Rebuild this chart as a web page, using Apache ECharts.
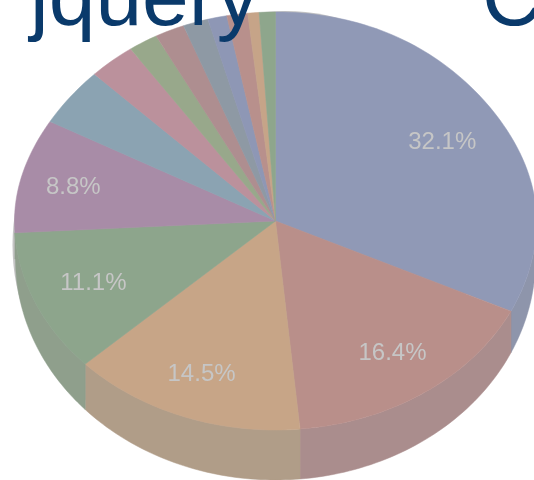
<!DOCTYPE html>
<html>
<head>
<meta charset="utf-8">
<style>
html, body { margin: 0; padding: 0; background: #fff; }
#pie_3d { width: 534px; height: 480px; filter: blur(0.5px); }
</style>
<script src="https://cdn.jsdelivr.net/npm/echarts@6/dist/echarts.min.js"></script>
</head>
<body>
<div id="pie_3d"></div>
<script>
// Slices, clockwise from 12 o'clock
var sliceValues = [32.1, 16.4, 14.5, 11.1, 8.8, 4.5, 3.0, 1.9, 1.9, 1.6, 1.2, 1.3, 0.7, 1.0];
var topColors = ['#9099b6', '#b98f8a', '#c7a587', '#8da58c', '#a88ca7', '#8ba3b2', '#bb919c',
    '#98a88b', '#ae8e90', '#8e99a4', '#8e97b5', '#b8908c', '#c6a488', '#8ea68c'];
var sideColors = ['#8e95ab', '#aa8d8d', '#b09d88', '#8f9f8c', '#9c8a9c', '#8b9da8', '#a88d96',
    '#95a089', '#a38c8e', '#8d96a0', '#8c93aa', '#aa8d8d', '#b09d88', '#8f9f8c'];
var titleWords = ['jquery', 'C'];
var labelMin = 8;
// Hand nudges for the percent labels, dx and dy in px
var labelNudge = [[0, 5], [4, 4], [-5, 7], [-2, 1], [-11, 1]];

// Pie geometry: the back half is pinched a little by the perspective
var cx = 275.5, cy = 221, rx = 261, ry = 209, backPinch = 0.025;
var baseCy = 259, baseRx = 260, baseRy = 221;
var total = 0;
sliceValues.forEach(function (v) { total += v; });

// Start and end of a slice, radians clockwise from the top
function sliceAngles(index) {
    var sum = 0;
    for (var i = 0; i < index; i++) {
        sum += sliceValues[i];
    }
    return [sum / total * 2 * Math.PI, (sum + sliceValues[index]) / total * 2 * Math.PI];
}

function pointOn(angle) {
    var s = Math.sin(angle), c = Math.cos(angle);
    var w = c > 0 ? 1 - backPinch * Math.pow(2 * s * c, 2) : 1;
    return [cx + rx * s * w, cy - ry * c];
}

// Base outline straight below a point of the top face
function baseYAt(x) {
    var u = Math.min(1, Math.abs(x - cx) / baseRx);
    return baseCy + baseRy * Math.sqrt(1 - u * u);
}

// Wall under the front half of the pie
function renderSide(params, api) {
    var a = sliceAngles(params.dataIndex);
    var start = Math.max(a[0], Math.PI / 2);
    var end = Math.min(a[1], Math.PI * 3 / 2);
    if (end - start < 0.1) {
        return null;
    }
    var edge = [];
    var steps = 48;
    for (var i = 0; i <= steps; i++) {
        edge.push(pointOn(start + (end - start) * i / steps));
    }
    var points = edge.slice();
    for (var j = steps; j >= 0; j--) {
        points.push([edge[j][0], baseYAt(edge[j][0])]);
    }
    return {
        type: 'polygon',
        shape: { points: points },
        style: { fill: sideColors[params.dataIndex], stroke: sideColors[params.dataIndex], lineWidth: 0.5 }
    };
}

// Top face with its percent label
function renderTop(params, api) {
    var a = sliceAngles(params.dataIndex);
    var value = api.value(0);
    var points = [[cx, cy]];
    var steps = Math.max(4, Math.ceil((a[1] - a[0]) * 40));
    for (var i = 0; i <= steps; i++) {
        points.push(pointOn(a[0] + (a[1] - a[0]) * i / steps));
    }
    var children = [{
        type: 'polygon',
        shape: { points: points },
        style: { fill: topColors[params.dataIndex], stroke: topColors[params.dataIndex], lineWidth: 0.5 }
    }];
    if (value >= labelMin) {
        var mid = (a[0] + a[1]) / 2;
        var nudge = labelNudge[params.dataIndex];
        children.push({
            type: 'text',
            x: 276 + 262 * 0.75 * Math.sin(mid) + nudge[0],
            y: cy - ry * 0.75 * Math.cos(mid) + nudge[1],
            z2: 5,
            style: {
                text: value.toFixed(1) + '%',
                fill: '#c6c6c6',
                font: '24px "Liberation Sans", Arial, sans-serif',
                align: 'center',
                verticalAlign: 'middle'
            }
        });
    }
    return { type: 'group', children: children };
}

var chart = echarts.init(document.getElementById('pie_3d'), null, { renderer: 'canvas' });

chart.setOption({
    animation: false,
    backgroundColor: '#ffffff',
    xAxis: { show: false },
    yAxis: { show: false },
    grid: { left: 0, right: 0, top: 0, bottom: 0 },
    graphic: {
        elements: [
            // Grey rim that only peeks out at the top and at the left
            {
                type: 'ellipse',
                z: 0,
                shape: { cx: 285, cy: 210, rx: 200, ry: 199 },
                style: { fill: '#c4c4c4' }
            },
            {
                type: 'ellipse',
                z: 0,
                shape: { cx: 210, cy: 245, rx: 197.5, ry: 200 },
                style: { fill: '#c4c4c4' }
            },
            {
                type: 'text',
                z: 10,
                left: 30,
                top: -40,
                style: {
                    text: titleWords[0],
                    fill: '#0a3a6b',
                    font: '84px "Liberation Sans", Arial, sans-serif'
                }
            },
            {
                type: 'text',
                z: 10,
                left: 482,
                top: -40,
                style: {
                    text: titleWords[1],
                    fill: '#0a3a6b',
                    font: '84px "Liberation Sans", Arial, sans-serif'
                }
            }
        ]
    },
    series: [
        {
            type: 'custom',
            coordinateSystem: 'none',
            z: 1,
            silent: true,
            renderItem: renderSide,
            data: sliceValues.map(function (v) { return [v]; })
        },
        {
            type: 'custom',
            coordinateSystem: 'none',
            z: 2,
            silent: true,
            renderItem: renderTop,
            data: sliceValues.map(function (v) { return [v]; })
        }
    ]
});
</script>
</body>
</html>
